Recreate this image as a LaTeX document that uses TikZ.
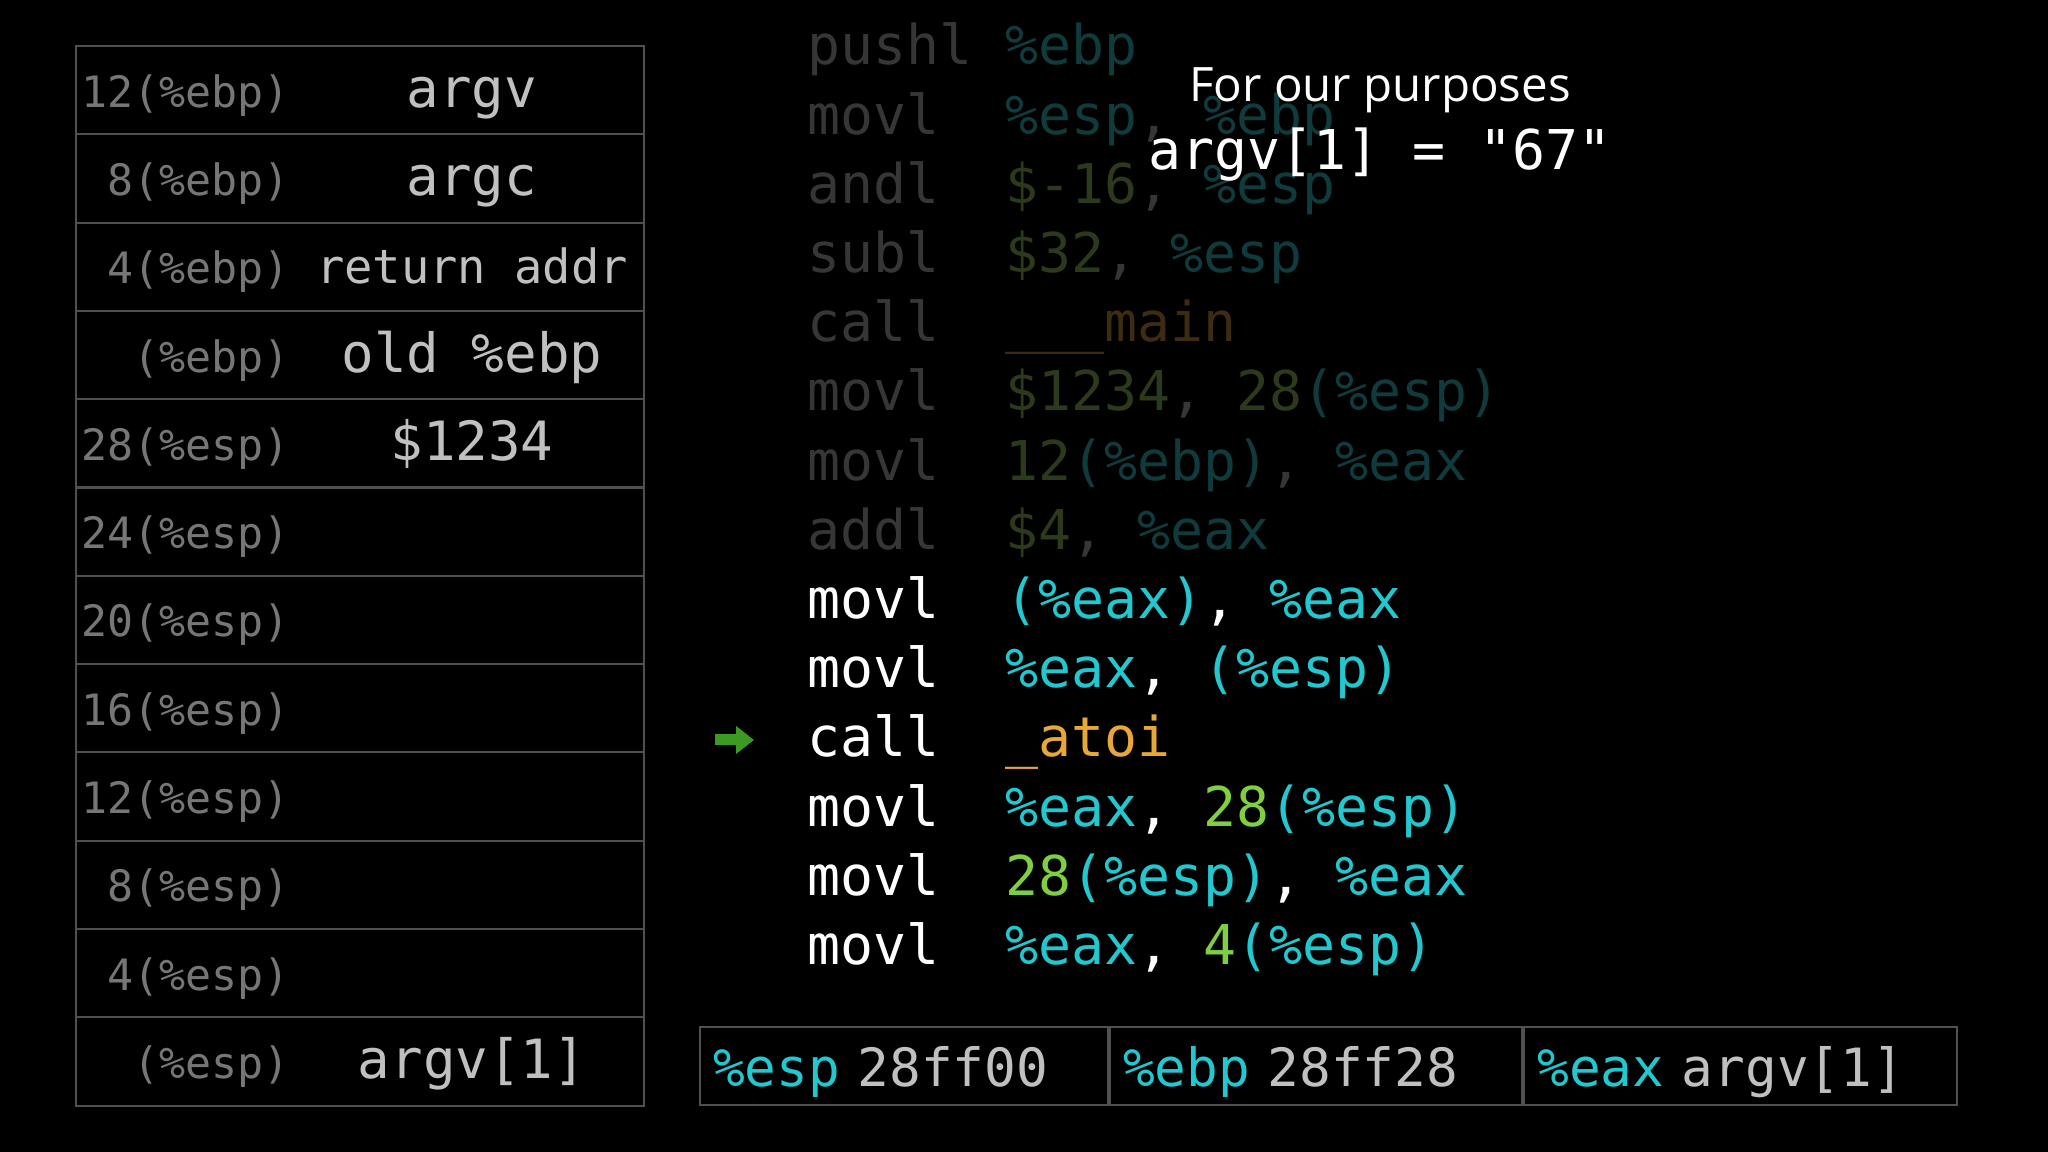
\documentclass[tikz,border=0pt]{standalone}
\usepackage{fontspec}
\setmainfont{Open Sans}
\setmonofont{DejaVu Sans Mono}
\usetikzlibrary{positioning, arrows.meta}

\definecolor{regcyan}{HTML}{22C8D0}
\definecolor{numgreen}{HTML}{7ED040}
\definecolor{fnorange}{HTML}{E8A838}
\definecolor{arrowgreen}{HTML}{3C9A22}
\definecolor{dimgray}{HTML}{363636}
\definecolor{dimcyan}{HTML}{0F3B3D}
\definecolor{dimgreen}{HTML}{2C3A1B}
\definecolor{dimorange}{HTML}{3E2C12}
\definecolor{lblgray}{HTML}{767676}
\definecolor{valgray}{HTML}{C0C0C0}
\definecolor{gridgray}{HTML}{505050}

% operand colouring
\newcommand{\asmreg}[1]{\textcolor{regcyan}{#1}}
\newcommand{\asmnum}[1]{\textcolor{numgreen}{#1}}
\newcommand{\asmfn}[1]{\textcolor{fnorange}{#1}}
\newcommand{\dimreg}[1]{\textcolor{dimcyan}{#1}}
\newcommand{\dimnum}[1]{\textcolor{dimgreen}{#1}}
\newcommand{\dimfn}[1]{\textcolor{dimorange}{#1}}

\begin{document}
\begin{tikzpicture}[
        slot/.style={font=\ttfamily\fontsize{12.3}{14}\selectfont, text=lblgray, anchor=base east, inner sep=0pt},
        slotval/.style={font=\ttfamily\fontsize{15.4}{18}\selectfont, text=valgray, anchor=base, inner sep=0pt},
        op/.style={font=\ttfamily\fontsize{15.6}{18}\selectfont, text=white, anchor=base west, inner sep=0pt},
        opdim/.style={op, text=dimgray},
        regcell/.style={draw=gridgray, line width=0.6pt, anchor=south west, minimum height=0.78cm,
            inner xsep=0.13cm, inner ysep=0pt, text height=0.50cm, text depth=0.08cm,
            text width=#1, align=left, font=\ttfamily\fontsize{15}{18}\selectfont, text=valgray},
        pcarrow/.style={line width=0.11cm, arrowgreen, -{Triangle[length=0.18cm, width=0.27cm]}}
    ]

        % Background
        \fill[black] (0,0) rectangle (20.48,11.52);

        % Stack frame grid
        \draw[gridgray, line width=0.6pt] (0.76,0.46) rectangle (6.44,11.06);
        \foreach \k in {1,...,11}
            \draw[gridgray, line width=0.6pt] (0.76,{11.06-0.883*\k}) -- (6.44,{11.06-0.883*\k});

        % Slot offsets
        \foreach \lbl [count=\i from 0] in {{12(\%ebp)}, {8(\%ebp)}, {4(\%ebp)}, {(\%ebp)},
                {28(\%esp)}, {24(\%esp)}, {20(\%esp)}, {16(\%esp)}, {12(\%esp)}, {8(\%esp)}, {4(\%esp)}, {(\%esp)}}
            \node[slot] (slot\i) at (2.90,{11.06-0.883*(\i+0.5)-0.17}) {\lbl};

        % Slot contents
        \node[slotval] (argv) at (4.72,0 |- slot0.base) {argv};
        \node[slotval] (argc) at (4.72,0 |- slot1.base) {argc};
        \node[slotval, font=\ttfamily\fontsize{13.4}{16}\selectfont] (retaddr) at (4.72,0 |- slot2.base) {return addr};
        \node[slotval] (oldebp) at (4.72,0 |- slot3.base) {old \%ebp};
        \node[slotval] (local) at (4.72,0 |- slot4.base) {\$1234};
        \node[slotval] (arg1) at (4.72,0 |- slot11.base) {argv[1]};

        % Already executed instructions (faded)
        \coordinate (opcol) at (10.05,0);
        \node[opdim] (m0) at (8.07,10.87) {pushl};
        \node[opdim] (a0) at (m0.base -| opcol) {\dimreg{\%ebp}};
        \node[opdim] (m1) at (8.07,10.178) {movl};
        \node[opdim] (a1) at (m1.base -| opcol) {\dimreg{\%esp}, \dimreg{\%ebp}};
        \node[opdim] (m2) at (8.07,9.486) {andl};
        \node[opdim] (a2) at (m2.base -| opcol) {\dimnum{\$-16}, \dimreg{\%esp}};
        \node[opdim] (m3) at (8.07,8.794) {subl};
        \node[opdim] (a3) at (m3.base -| opcol) {\dimnum{\$32}, \dimreg{\%esp}};
        \node[opdim] (m4) at (8.07,8.102) {call};
        \node[opdim] (a4) at (m4.base -| opcol) {\dimfn{\_\_\_main}};
        \node[opdim] (m5) at (8.07,7.41) {movl};
        \node[opdim] (a5) at (m5.base -| opcol) {\dimnum{\$1234}, \dimnum{28}\dimreg{(\%esp)}};
        \node[opdim] (m6) at (8.07,6.718) {movl};
        \node[opdim] (a6) at (m6.base -| opcol) {\dimnum{12}\dimreg{(\%ebp)}, \dimreg{\%eax}};
        \node[opdim] (m7) at (8.07,6.026) {addl};
        \node[opdim] (a7) at (m7.base -| opcol) {\dimnum{\$4}, \dimreg{\%eax}};

        % Current instructions
        \node[op] (m8) at (8.07,5.334) {movl};
        \node[op] (a8) at (m8.base -| opcol) {\asmreg{(\%eax)}, \asmreg{\%eax}};
        \node[op] (m9) at (8.07,4.642) {movl};
        \node[op] (a9) at (m9.base -| opcol) {\asmreg{\%eax}, \asmreg{(\%esp)}};
        \node[op] (m10) at (8.07,3.95) {call};
        \node[op] (a10) at (m10.base -| opcol) {\asmfn{\_atoi}};
        \node[op] (m11) at (8.07,3.258) {movl};
        \node[op] (a11) at (m11.base -| opcol) {\asmreg{\%eax}, \asmnum{28}\asmreg{(\%esp)}};
        \node[op] (m12) at (8.07,2.566) {movl};
        \node[op] (a12) at (m12.base -| opcol) {\asmnum{28}\asmreg{(\%esp)}, \asmreg{\%eax}};
        \node[op] (m13) at (8.07,1.874) {movl};
        \node[op] (a13) at (m13.base -| opcol) {\asmreg{\%eax}, \asmnum{4}\asmreg{(\%esp)}};

        % Program counter
        \coordinate (pcstart) at (7.15,4.12);
        \coordinate (pcend) at (7.54,4.12);
        \draw[pcarrow] (pcstart) -- (pcend);

        % Note
        \node[font=\fontsize{13.5}{16}\selectfont, text=white, anchor=base, inner sep=0pt] (purpose) at (13.80,10.50) {For our purposes};
        \node[op, anchor=base] (argvval) at (13.80,9.82) {argv[1] = "67"};

        % Registers
        \node[regcell=3.82cm] (espcell) at (6.99,0.46) {\asmreg{\%esp} 28ff00};
        \node[regcell=3.86cm, right=0pt of espcell] (ebpcell) {\asmreg{\%ebp} 28ff28};
        \node[regcell=4.07cm, right=0pt of ebpcell] (eaxcell) {\asmreg{\%eax} argv[1]};

    \end{tikzpicture}
\end{document}
